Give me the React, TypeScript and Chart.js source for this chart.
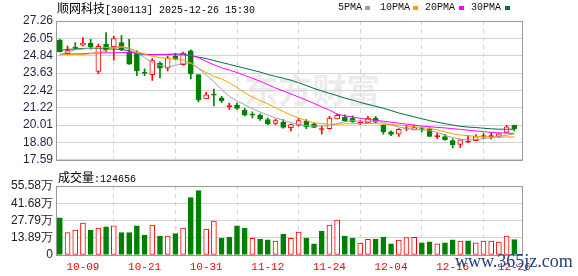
import React, { useEffect, useRef } from 'react';
import { Chart, registerables } from 'chart.js';

Chart.register(...registerables);

// ---------- data ----------
const dates = [
  '09-26', '09-29', '09-30', '10-09', '10-10', '10-13', '10-14', '10-15', '10-16', '10-17',
  '10-20', '10-21', '10-22', '10-23', '10-24', '10-27', '10-28', '10-29', '10-30', '10-31',
  '11-03', '11-04', '11-05', '11-06', '11-07', '11-10', '11-11', '11-12', '11-13', '11-14',
  '11-17', '11-18', '11-19', '11-20', '11-21', '11-24', '11-25', '11-26', '11-27', '11-28',
  '12-01', '12-02', '12-03', '12-04', '12-05', '12-08', '12-09', '12-10', '12-11', '12-12',
  '12-15', '12-16', '12-17', '12-18', '12-19', '12-22', '12-23', '12-24', '12-25', '12-26',
];

const opens = [
  25.92, 24.98, 25.45, 25.58, 25.72, 23.75, 25.65, 25.47, 25.76, 25.11,
  24.98, 23.70, 23.52, 24.31, 23.97, 24.80, 24.22, 25.18, 23.52, 21.84,
  22.15, 21.91, 21.30, 21.40, 21.06, 20.76, 20.68, 20.39, 20.12, 20.21,
  19.83, 20.01, 20.28, 20.10, 19.70, 19.76, 20.43, 20.55, 20.50, 20.15,
  20.16, 20.50, 20.01, 19.54, 19.38, 19.74, 19.67, 19.74, 19.74, 19.20,
  19.20, 18.93, 18.66, 18.82, 18.93, 19.20, 19.20, 19.22, 19.49, 19.99,
];
const highs = [
  25.98, 25.51, 25.75, 26.10, 25.98, 25.65, 26.46, 26.21, 26.25, 25.98,
  25.20, 23.92, 24.64, 24.42, 24.82, 25.00, 25.09, 25.25, 23.52, 22.29,
  22.51, 22.02, 21.55, 21.55, 21.17, 20.93, 20.79, 20.50, 20.43, 20.39,
  20.07, 20.46, 20.39, 20.16, 19.94, 20.61, 20.77, 20.73, 20.66, 20.32,
  20.61, 20.61, 20.05, 19.60, 19.76, 19.99, 20.01, 19.89, 19.83, 19.45,
  19.36, 19.05, 19.00, 19.30, 19.34, 19.45, 19.45, 19.42, 19.99, 20.01,
];
const lows = [
  25.11, 24.91, 25.30, 25.53, 25.30, 23.59, 25.13, 24.53, 25.20, 24.24,
  23.45, 23.45, 23.12, 23.30, 23.79, 24.55, 24.19, 23.23, 21.62, 21.84,
  21.35, 21.57, 21.10, 21.10, 20.65, 20.50, 20.34, 20.03, 20.03, 19.80,
  19.60, 19.94, 19.76, 19.83, 19.38, 19.72, 20.43, 20.26, 20.20, 20.03,
  20.12, 20.18, 19.38, 19.27, 19.22, 19.60, 19.67, 19.54, 19.20, 19.07,
  18.96, 18.42, 18.44, 18.80, 18.93, 19.05, 19.05, 19.13, 19.49, 19.60,
];
const closes = [
  25.13, 25.20, 25.35, 25.72, 25.45, 25.49, 25.27, 26.03, 25.27, 24.26,
  23.79, 23.60, 24.51, 23.97, 24.69, 24.60, 25.02, 23.57, 21.77, 22.11,
  22.10, 21.69, 21.35, 21.17, 20.70, 20.70, 20.43, 20.10, 20.32, 19.85,
  20.05, 20.32, 19.90, 19.85, 19.74, 20.50, 20.68, 20.32, 20.23, 20.18,
  20.50, 20.21, 19.54, 19.36, 19.72, 19.77, 19.83, 19.70, 19.22, 19.23,
  18.98, 18.64, 18.98, 18.84, 19.20, 19.23, 19.23, 19.40, 19.89, 19.76,
];

const ma5 = [
  24.88, 25.11, 25.25, 25.31, 25.36, 25.38, 25.41, 25.43, 25.43, 25.31,
  25.04, 24.71, 24.37, 24.17, 24.04, 24.17, 24.31, 24.31, 23.97, 23.50,
  23.03, 22.49, 22.02, 21.69, 21.42, 21.15, 20.91, 20.71, 20.51, 20.34,
  20.18, 20.04, 19.97, 19.94, 19.94, 19.97, 20.11, 20.24, 20.31, 20.28,
  20.28, 20.28, 20.18, 20.01, 19.87, 19.77, 19.71, 19.67, 19.64, 19.50,
  19.30, 19.13, 19.03, 18.97, 19.00, 19.07, 19.13, 19.22, 19.30, 19.40,
];
const ma10 = [
  24.93, 24.93, 24.93, 24.93, 24.98, 25.08, 25.21, 25.38, 25.48, 25.38,
  25.15, 24.94, 24.81, 24.71, 24.64, 24.61, 24.54, 24.34, 23.97, 23.67,
  23.40, 23.23, 22.96, 22.63, 22.26, 21.96, 21.72, 21.49, 21.22, 20.95,
  20.71, 20.51, 20.31, 20.18, 20.11, 20.07, 20.07, 20.09, 20.11, 20.12,
  20.12, 20.11, 20.07, 20.05, 20.01, 19.94, 19.89, 19.84, 19.77, 19.67,
  19.54, 19.40, 19.32, 19.27, 19.22, 19.20, 19.18, 19.18, 19.18, 19.18,
];
const ma20 = [
  24.94, 24.96, 24.96, 24.98, 25.01, 25.04, 25.04, 25.04, 25.06, 25.06,
  25.04, 24.94, 24.91, 24.91, 24.91, 24.91, 24.89, 24.86, 24.71, 24.44,
  24.21, 24.00, 23.84, 23.67, 23.47, 23.27, 23.06, 22.83, 22.59, 22.39,
  22.18, 21.96, 21.75, 21.52, 21.28, 21.05, 20.78, 20.65, 20.58, 20.48,
  20.41, 20.34, 20.28, 20.21, 20.14, 20.07, 20.01, 19.94, 19.89, 19.85,
  19.81, 19.76, 19.71, 19.65, 19.60, 19.56, 19.50, 19.47, 19.45, 19.42,
];
const ma30 = [
  25.21, 25.28, 25.31, 25.35, 25.36, 25.35, 25.31, 25.31, 25.28, 25.18,
  24.94, 24.94, 24.93, 24.93, 24.94, 24.96, 24.94, 24.84, 24.74, 24.64,
  24.51, 24.37, 24.24, 24.10, 23.97, 23.84, 23.70, 23.53, 23.40, 23.27,
  23.13, 22.96, 22.76, 22.56, 22.39, 22.22, 22.06, 21.89, 21.75, 21.59,
  21.45, 21.32, 21.18, 21.02, 20.85, 20.72, 20.58, 20.45, 20.32, 20.21,
  20.11, 20.01, 19.92, 19.87, 19.84, 19.79, 19.75, 19.72, 19.72, 19.72,
];

// volume in 万 (10k lots)
const volumes = [
  30.0, 18.0, 20.1, 25.8, 20.1, 21.7, 22.6, 23.4, 18.0, 18.0,
  23.4, 16.1, 24.2, 15.3, 15.3, 17.2, 21.7, 46.2, 51.8, 20.9,
  27.4, 13.7, 14.5, 23.4, 21.7, 13.4, 12.9, 12.3, 11.3, 16.9,
  13.4, 18.5, 13.7, 8.9, 19.3, 24.2, 28.2, 15.3, 13.7, 9.7,
  12.6, 12.9, 14.5, 8.9, 12.1, 14.0, 14.2, 9.9, 10.7, 8.9,
  9.9, 12.3, 11.3, 11.5, 9.9, 11.3, 11.3, 10.5, 15.3, 12.47,
];
// 1 = rising (red hollow) volume bar, 0 = falling (green)
const volumeRise = [
  0, 1, 1, 1, 0, 1, 0, 1, 0, 0,
  0, 0, 1, 0, 1, 0, 1, 0, 0, 1,
  1, 0, 0, 0, 0, 1, 0, 0, 1, 0,
  1, 1, 0, 0, 0, 1, 1, 0, 0, 1,
  1, 0, 0, 0, 1, 1, 1, 0, 0, 1,
  0, 0, 1, 0, 1, 1, 1, 1, 1, 0,
];

const priceTickLabels = ['17.59', '18.80', '20.01', '21.22', '22.42', '23.63', '24.84', '26.05', '27.26'];
const volumeTickLabels = ['0', '13.89万', '27.79万', '41.68万', '55.58万'];
const PRICE_MIN = 17.59;
const PRICE_MAX = 27.26;
const VOL_MAX = 55.58;
const LABEL_START = 3;
const LABEL_STEP = 8;

const titleName = '顺网科技';
const titleRest = '[300113] 2025-12-26 15:30';
const volumeTitle = '成交量:124656';
const maNames = ['5PMA', '10PMA', '20PMA', '30PMA'];

// ---------- styles ----------
const RED = '#ff0000';
const GREEN = '#008000';
const MA_COLORS = ['#a0a0a0', '#f5a300', '#ff00ff', '#006f3c'];
const GRID = '#d3d3d3';
const BOX = '#999999';
const TICK_COLOR = '#1e2246';
const SANS = '"Liberation Sans", Arial, sans-serif';
const MONO = '"Liberation Mono", monospace';
const CJK = '"Noto Sans CJK SC", sans-serif';

const boxPlugin = {
  id: 'box',
  afterDraw(chart: any) {
    const { ctx, chartArea: a } = chart;
    ctx.save();
    ctx.strokeStyle = BOX;
    ctx.lineWidth = 1;
    ctx.strokeRect(Math.round(a.left) + 0.5, Math.round(a.top) + 0.5, Math.round(a.right - a.left), Math.round(a.bottom - a.top));
    ctx.restore();
  },
};

const watermarkPlugin = {
  id: 'wm',
  beforeDraw(chart: any) {
    const { ctx, chartArea: a } = chart;
    ctx.save();
    ctx.font = `bold 34px ${CJK}`;
    ctx.fillStyle = 'rgba(0,0,0,0.075)';
    ctx.textAlign = 'center';
    ctx.textBaseline = 'middle';
    ctx.fillText('东方财富', a.left + (a.right - a.left) * 0.55, a.top + (a.bottom - a.top) * 0.5);
    ctx.restore();
  },
};

export default function App() {
  const priceRef = useRef<HTMLCanvasElement>(null);
  const volRef = useRef<HTMLCanvasElement>(null);

  useEffect(() => {
    const n = dates.length;
    const xs = dates.map((_, i) => i);
    const up = xs.map((i) => closes[i] > opens[i]);
    const candleColor = xs.map((i) => (up[i] ? RED : GREEN));
    const bodyFill = xs.map((i) => (up[i] ? (Math.abs(closes[i] - opens[i]) < 0.12 ? RED : '#ffffff') : GREEN));
    const labelIdx = xs.filter((i) => i >= LABEL_START && (i - LABEL_START) % LABEL_STEP === 0);

    const xScale = (showLabels: boolean, height: number) => ({
      type: 'linear',
      min: -0.5,
      max: n,
      offset: false,
      afterBuildTicks: (s: any) => {
        s.ticks = labelIdx.map((v) => ({ value: v }));
      },
      afterFit: (s: any) => {
        s.height = height;
      },
      grid: { color: GRID, drawTicks: false },
      border: { display: false, dash: [4, 4] },
      ticks: {
        display: showLabels,
        autoSkip: false,
        maxRotation: 0,
        padding: 5,
        color: RED,
        font: { family: MONO, size: 11 },
        callback: (v: any) => dates[v] ?? '',
      },
    });

    const priceTicks = priceTickLabels.map((_, k) => PRICE_MIN + (k * (PRICE_MAX - PRICE_MIN)) / (priceTickLabels.length - 1));
    const volTicks = volumeTickLabels.map((_, k) => (k * VOL_MAX) / (volumeTickLabels.length - 1));

    const maSets = [ma5, ma10, ma20, ma30].map((arr, k) => ({
      type: 'line',
      label: maNames[k],
      data: xs.map((i) => ({ x: i, y: arr[i] })),
      borderColor: MA_COLORS[k],
      borderWidth: 1,
      pointRadius: 0,
      tension: 0,
      fill: false,
    }));

    const price = new Chart(priceRef.current as HTMLCanvasElement, {
      type: 'bar',
      data: {
        datasets: [
          ...maSets,
          {
            type: 'bar',
            label: 'body',
            data: xs.map((i) => ({ x: i, y: [Math.min(opens[i], closes[i]), Math.max(opens[i], closes[i])] })),
            backgroundColor: bodyFill,
            borderColor: candleColor,
            borderWidth: 1,
            borderSkipped: false,
            barThickness: 5,
            minBarLength: 1,
            grouped: false,
          },
          {
            type: 'bar',
            label: 'wick',
            data: xs.map((i) => ({ x: i, y: [lows[i], highs[i]] })),
            backgroundColor: candleColor,
            borderWidth: 0,
            barThickness: 1,
            grouped: false,
          },
        ],
      } as any,
      options: {
        responsive: false,
        animation: false,
        devicePixelRatio: 1,
        events: [],
        layout: { padding: { top: 21, right: 56, bottom: 5, left: 0 } },
        plugins: { legend: { display: false }, tooltip: { enabled: false } },
        scales: {
          x: xScale(false, 0),
          y: {
            min: PRICE_MIN,
            max: PRICE_MAX,
            afterFit: (s: any) => {
              s.width = 56;
            },
            afterBuildTicks: (s: any) => {
              s.ticks = priceTicks.map((v) => ({ value: v }));
            },
            grid: { color: GRID, drawTicks: false },
            border: { display: false },
            ticks: {
              autoSkip: false,
              padding: 3,
              color: TICK_COLOR,
              font: { family: SANS, size: 12 },
              callback: (_v: any, idx: number) => priceTickLabels[idx],
            },
          },
        },
      } as any,
      plugins: [watermarkPlugin, boxPlugin],
    });

    const vol = new Chart(volRef.current as HTMLCanvasElement, {
      type: 'bar',
      data: {
        datasets: [
          {
            label: 'vol',
            data: xs.map((i) => ({ x: i, y: volumes[i] })),
            backgroundColor: xs.map((i) => (volumeRise[i] ? '#ffffff' : GREEN)),
            borderColor: xs.map((i) => (volumeRise[i] ? RED : GREEN)),
            borderWidth: 1,
            borderSkipped: false,
            barThickness: 5,
            grouped: false,
          },
        ],
      } as any,
      options: {
        responsive: false,
        animation: false,
        devicePixelRatio: 1,
        events: [],
        layout: { padding: { top: 16, right: 56, bottom: 0, left: 0 } },
        plugins: { legend: { display: false }, tooltip: { enabled: false } },
        scales: {
          x: xScale(true, 21),
          y: {
            min: 0,
            max: VOL_MAX,
            afterFit: (s: any) => {
              s.width = 56;
            },
            afterBuildTicks: (s: any) => {
              s.ticks = volTicks.map((v) => ({ value: v }));
            },
            grid: { color: GRID, drawTicks: false },
            border: { display: false },
            ticks: {
              autoSkip: false,
              padding: 3,
              color: '#222222',
              font: { family: SANS, size: 12 },
              callback: (_v: any, idx: number) => volumeTickLabels[idx],
            },
          },
        },
      } as any,
      plugins: [boxPlugin],
    });

    return () => {
      price.destroy();
      vol.destroy();
    };
  }, []);

  const legendLefts = [338, 380, 425, 471];
  const swatchLefts = [365, 413, 459, 505];

  return (
    <div style={{ position: 'fixed', left: 0, top: 0, width: 578, height: 276, background: '#ffffff', overflow: 'hidden' }}>
      <canvas ref={priceRef} width={578} height={170} style={{ position: 'absolute', left: 0, top: 0 }} />
      <canvas ref={volRef} width={578} height={106} style={{ position: 'absolute', left: 0, top: 170 }} />
      <div style={{ position: 'absolute', left: 57, top: 1, height: 14, lineHeight: '14px', whiteSpace: 'nowrap', color: '#000' }}>
        <span style={{ fontFamily: CJK, fontSize: 12 }}>{titleName}</span>
        <span style={{ fontFamily: MONO, fontSize: 10 }}>{titleRest}</span>
      </div>
      {maNames.map((name, k) => (
        <React.Fragment key={name}>
          <div style={{ position: 'absolute', left: legendLefts[k], top: 1, lineHeight: '14px', fontFamily: MONO, fontSize: 10, color: '#111' }}>{name}</div>
          <div style={{ position: 'absolute', left: swatchLefts[k], top: 6, width: 5, height: 4, background: MA_COLORS[k] }} />
        </React.Fragment>
      ))}
      <div style={{ position: 'absolute', left: 58, top: 170, lineHeight: '14px', whiteSpace: 'nowrap', color: '#000' }}>
        <span style={{ fontFamily: CJK, fontSize: 12 }}>{volumeTitle.slice(0, 3)}</span>
        <span style={{ fontFamily: MONO, fontSize: 10 }}>{volumeTitle.slice(3)}</span>
      </div>
      <div style={{ position: 'absolute', left: 455, top: 252, lineHeight: '18px', fontFamily: '"Liberation Serif", serif', fontSize: 18, color: '#22407a', whiteSpace: 'nowrap' }}>
        www.365jz.com
      </div>
    </div>
  );
}
